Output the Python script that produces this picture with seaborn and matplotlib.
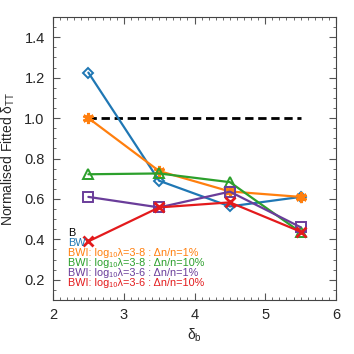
import matplotlib
matplotlib.use("Agg")
import matplotlib.pyplot as plt
import seaborn as sns
import numpy as np
import pandas as pd
from matplotlib.ticker import MultipleLocator

# ---- data ----
delta_b = [2.5, 3.5, 4.5, 5.5]
bw = [1.225, 0.690, 0.563, 0.610]
bwi_38_1 = [1.000, 0.738, 0.637, 0.610]
bwi_38_10 = [0.722, 0.726, 0.683, 0.435]
bwi_36_1 = [0.610, 0.558, 0.636, 0.460]
bwi_36_10 = [0.390, 0.558, 0.583, 0.438]
b_ref = [1.0, 1.0, 1.0, 1.0]

labels = ["B", "BW",
          "BWI: log₁₀λ=3-8 : Δn/n=1%",
          "BWI: log₁₀λ=3-8 : Δn/n=10%",
          "BWI: log₁₀λ=3-6 : Δn/n=1%",
          "BWI: log₁₀λ=3-6 : Δn/n=10%"]

sns.set_style("ticks")
plt.rcParams["font.family"] = ["Liberation Sans", "DejaVu Sans"]
plt.rcParams["mathtext.fontset"] = "custom"
plt.rcParams["mathtext.rm"] = "Liberation Sans"
plt.rcParams["mathtext.it"] = "Liberation Sans:italic"
plt.rcParams["mathtext.default"] = "rm"

fig = plt.figure(figsize=(3.54, 3.54), dpi=100)
ax = fig.add_axes([53/354, 1-300/354, (336-53)/354, (300-17)/354])

colors = {"B": "black", "BW": "#1f77b4", "o1": "#ff7f0e", "g1": "#2ca02c",
          "p1": "#6a3d9a", "r1": "#e31a1c"}

sns.lineplot(x=delta_b, y=b_ref, ax=ax, color="black", lw=2.0,
             linestyle=(0, (3, 1.7)), zorder=2)

series = [
    (bw, colors["BW"], "D", dict(mfc="none", ms=5.5, mew=1.4)),
    (bwi_38_1, colors["o1"], (6, 2, 0), dict(ms=8, mew=2.2)),
    (bwi_38_10, colors["g1"], "^", dict(mfc="none", ms=7, mew=1.4)),
    (bwi_36_1, colors["p1"], "s", dict(mfc="none", ms=7, mew=1.4)),
    (bwi_36_10, colors["r1"], "x", dict(ms=7, mew=2.0)),
]
for vals, c, m, kw in series:
    sns.lineplot(x=delta_b, y=vals, ax=ax, color=c, lw=1.6, marker=m,
                 mec=c, zorder=3, **kw)

ax.set_xlim(2, 6)
ax.set_ylim(0.1, 1.5)
ax.xaxis.set_major_locator(MultipleLocator(1))
ax.xaxis.set_minor_locator(MultipleLocator(0.1))
ax.yaxis.set_minor_locator(MultipleLocator(0.05))
ax.set_yticks([0.2, 0.4, 0.6, 0.8, 1.0, 1.2, 1.4])
ax.set_yticklabels(["0.2", "0.4", "0.6", "0.8", "1.0", "1.2", "1.4"])
ax.tick_params(which="both", direction="in", top=True, right=True,
               color="#555555", labelsize=10.5)
ax.tick_params(which="major", length=5, width=0.8, pad=6)
ax.tick_params(which="minor", length=2.5, width=0.6)
for s in ax.spines.values():
    s.set_linewidth(0.8)
    s.set_color("#444444")

ax.set_xlabel(r"δ$_b$", fontsize=10, labelpad=3)
ax.set_ylabel(r"Normalised Fitted δ$_{TT}$", fontsize=10, labelpad=5)

text_colors = [colors["B"], colors["BW"], colors["o1"], colors["g1"],
               colors["p1"], colors["r1"]]
for i, (lab, c) in enumerate(zip(labels, text_colors)):
    ax.text(68/354, 1-233/354 - i*9.9/354, lab, color=c, fontsize=7.8,
            transform=fig.transFigure, va="center", ha="left")

fig.savefig("out.png", dpi=100)
